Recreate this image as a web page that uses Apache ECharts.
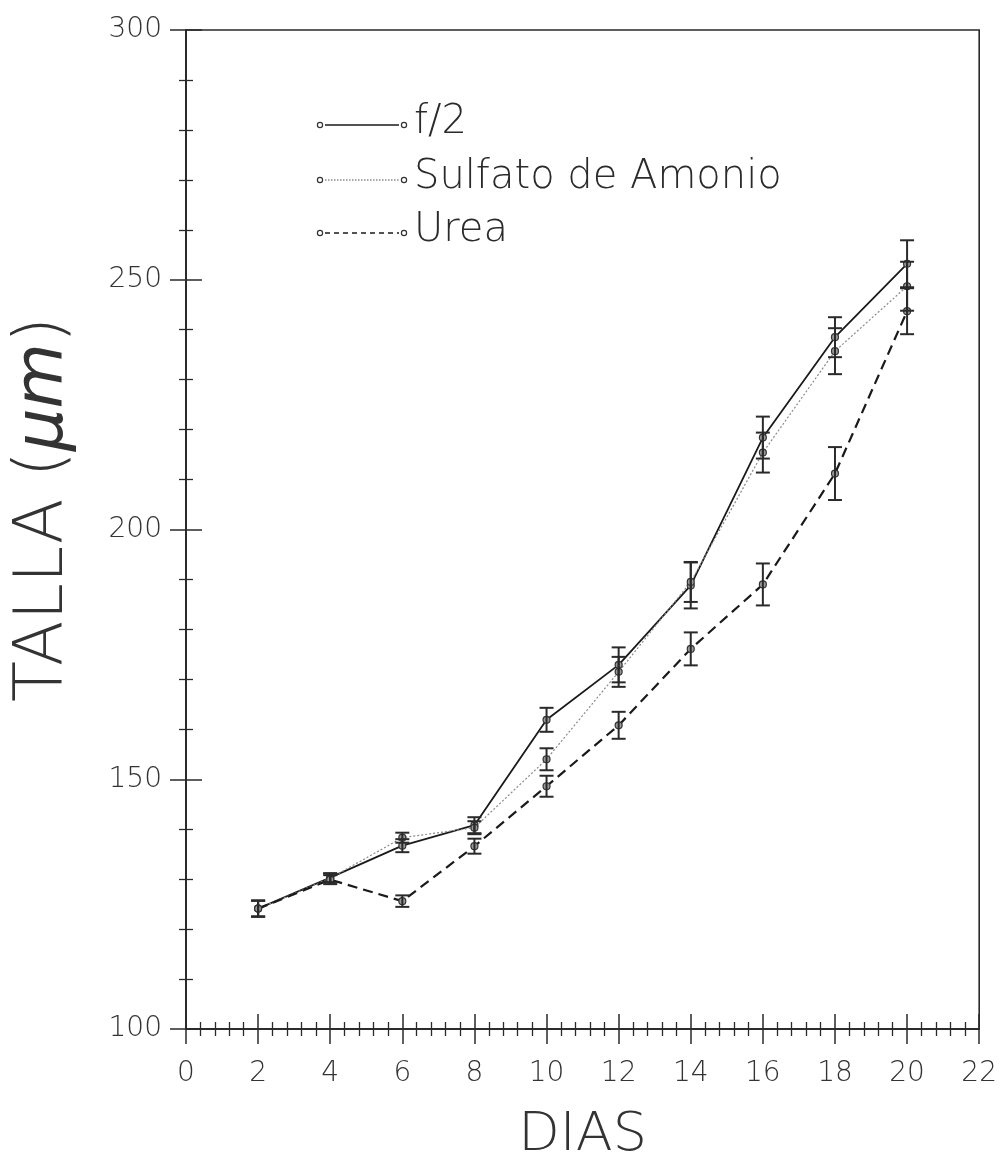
<!DOCTYPE html>
<html>
<head>
<meta charset="utf-8">
<script src="https://cdn.jsdelivr.net/npm/echarts@6/dist/echarts.min.js"></script>
<style>
html,body{margin:0;padding:0;background:#fff;}
#chart{width:1000px;height:1168px;}
</style>
</head>
<body>
<div id="chart"></div>
<script>
// ---- data ----
var days = [2, 4, 6, 8, 10, 12, 14, 16, 18, 20];
var f2 = [124.1, 130.3, 136.7, 140.8, 161.9, 172.9, 188.8, 218.4, 238.5, 253.2];
var f2Err = [1.6, 0.9, 1.3, 1.6, 2.4, 3.5, 4.6, 4.2, 4.0, 4.7];
var sulfato = [124.1, 130.2, 138.3, 140.3, 154.0, 171.5, 189.5, 215.4, 235.7, 248.7];
var sulfatoErr = [1.6, 0.9, 1.0, 1.3, 2.2, 3.0, 4.0, 4.0, 4.6, 4.9];
var urea = [124.1, 129.9, 125.6, 136.6, 148.6, 160.8, 176.1, 189.0, 211.2, 243.7];
var ureaErr = [1.6, 0.9, 1.15, 1.5, 2.1, 2.7, 3.3, 4.2, 5.3, 4.6];
var seriesNames = ['f/2', 'Sulfato de Amonio', 'Urea'];
var xTitle = 'DIAS';
var yTitle = 'TALLA ({i|μm})';

var FONT = 'DejaVu Sans';
var INK = '#2a2a2a';

function pairs(ys) { return days.map(function (d, i) { return [d, ys[i]]; }); }
function errs(ys, es) { return days.map(function (d, i) { return [d, ys[i] - es[i], ys[i] + es[i]]; }); }

function errRender(params, api) {
  var x = api.value(0);
  var lo = api.coord([x, api.value(1)]);
  var hi = api.coord([x, api.value(2)]);
  var hw = 7;
  var st = { stroke: INK, lineWidth: 2 };
  return {
    type: 'group',
    children: [
      { type: 'line', shape: { x1: lo[0], y1: lo[1], x2: hi[0], y2: hi[1] }, style: st },
      { type: 'line', shape: { x1: lo[0] - hw, y1: lo[1], x2: lo[0] + hw, y2: lo[1] }, style: st },
      { type: 'line', shape: { x1: hi[0] - hw, y1: hi[1], x2: hi[0] + hw, y2: hi[1] }, style: st }
    ]
  };
}

var lineStyles = [
  { color: '#1a1a1a', width: 1.8, type: 'solid' },
  { color: '#8a8a8a', width: 1.2, type: [2, 2] },
  { color: '#1a1a1a', width: 2.2, type: [10, 6] }
];
var values = [f2, sulfato, urea];
var errors = [f2Err, sulfatoErr, ureaErr];

var series = [];
for (var k = 0; k < 3; k++) {
  series.push({
    name: seriesNames[k], type: 'line', data: pairs(values[k]),
    symbol: 'circle', symbolSize: 7,
    itemStyle: { color: '#9a9a9a', borderColor: '#333', borderWidth: 1.2 },
    lineStyle: lineStyles[k], z: 3, animation: false
  });
  series.push({
    type: 'custom', renderItem: errRender, data: errs(values[k], errors[k]),
    encode: { x: 0, y: [1, 2] }, z: 4, animation: false
  });
}

var axisLineStyle = { color: INK, width: 1.6 };
function xAxisDef(inside, labels) {
  return {
    type: 'value', min: 0, max: 22, interval: 2, position: 'bottom',
    axisLine: { show: true, onZero: false, lineStyle: axisLineStyle },
    axisTick: { show: true, inside: inside, length: 15, lineStyle: { color: INK, width: 1.5 } },
    minorTick: { show: true, splitNumber: 5, length: 7, lineStyle: { color: INK, width: 1.3 } },
    splitLine: { show: false }, minorSplitLine: { show: false },
    axisLabel: { show: labels, margin: 31, fontFamily: FONT, fontSize: 28, color: '#333', fontWeight: 200 },
    name: labels ? xTitle : '', nameLocation: 'middle', nameGap: 80,
    nameTextStyle: { fontFamily: FONT, fontSize: 54, color: '#333', fontWeight: 200 }
  };
}
function yAxisDef(inside, labels) {
  return {
    type: 'value', min: 100, max: 300, interval: 50, position: 'left',
    axisLine: { show: true, onZero: false, lineStyle: axisLineStyle },
    axisTick: { show: true, inside: inside, length: 16, lineStyle: { color: INK, width: 1.5 } },
    minorTick: { show: true, splitNumber: 5, length: 7, lineStyle: { color: INK, width: 1.3 } },
    splitLine: { show: false }, minorSplitLine: { show: false },
    axisLabel: { show: labels, margin: 24, fontFamily: FONT, fontSize: 28, color: '#333', fontWeight: 200 },
    name: labels ? yTitle : '', nameLocation: 'middle', nameGap: 108, nameRotate: 90,
    nameTextStyle: {
      fontFamily: FONT, fontSize: 67, color: '#333', fontWeight: 200,
      padding: [0, 0, 0, 40],
      rich: { i: { fontFamily: FONT, fontSize: 67, color: '#333', fontStyle: 'italic', fontWeight: 200 } }
    }
  };
}

// legend drawn as graphic: circle - line - circle - text
var legendY = [125, 180, 233];
var legendGraphics = [];
for (var j = 0; j < 3; j++) {
  var y = legendY[j];
  var ls = lineStyles[j];
  var dash = ls.type === 'solid' ? null : (j === 1 ? [1.5, 1.5] : [5, 4]);
  legendGraphics.push({ type: 'line', shape: { x1: 325, y1: y, x2: 399, y2: y },
    style: { stroke: ls.color, lineWidth: j === 2 ? 1.4 : 1.3, lineDash: dash } });
  legendGraphics.push({ type: 'circle', shape: { cx: 320, cy: y, r: 2.6 }, style: { fill: '#fff', stroke: '#333', lineWidth: 1.2 } });
  legendGraphics.push({ type: 'circle', shape: { cx: 404, cy: y, r: 2.6 }, style: { fill: '#fff', stroke: '#333', lineWidth: 1.2 } });
  legendGraphics.push({ type: 'text', x: 414, y: y - 2,
    style: { text: seriesNames[j], font: '200 40px "DejaVu Sans"', fill: '#2a2a2a', verticalAlign: 'middle', align: 'left' } });
}

var chart = echarts.init(document.getElementById('chart'), null, { renderer: 'canvas' });
chart.setOption({
  animation: false,
  backgroundColor: '#fff',
  grid: { left: 186, top: 30, width: 800, height: 1012, show: true, borderColor: INK, borderWidth: 1.6, backgroundColor: 'transparent' },
  xAxis: [xAxisDef(false, true), xAxisDef(true, false)],
  yAxis: [yAxisDef(false, true), yAxisDef(true, false)],
  series: series,
  graphic: legendGraphics
});
</script>
</body>
</html>
